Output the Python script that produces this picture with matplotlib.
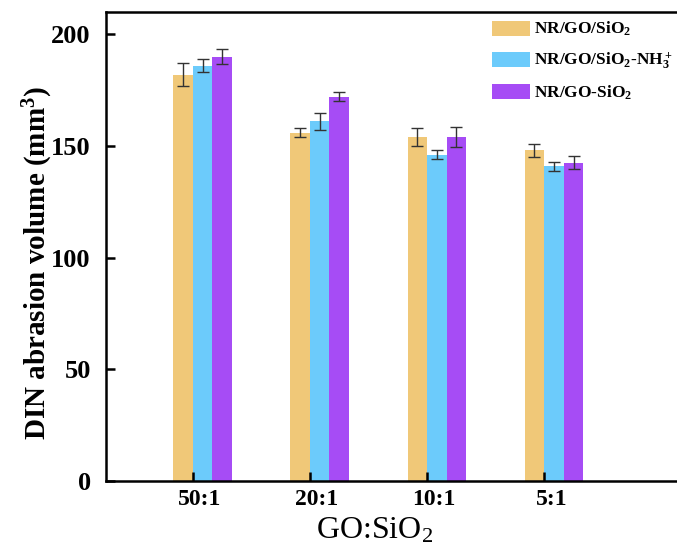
import matplotlib
matplotlib.use("Agg")
import matplotlib.pyplot as plt
import numpy as np

plt.rcParams['font.family'] = 'Liberation Serif'
plt.rcParams['mathtext.fontset'] = 'custom'
plt.rcParams['mathtext.rm'] = 'Liberation Serif'
plt.rcParams['mathtext.bf'] = 'Liberation Serif:bold'
plt.rcParams['mathtext.default'] = 'regular'

ratios = ["50:1", "20:1", "10:1", "5:1"]
labels = ["NR/GO/SiO$_2$", "NR/GO/SiO$_2$-NH$_3^+$", "NR/GO-SiO$_2$"]
colors = ["#F0C878", "#6CCBFB", "#A64CF5"]

sio2 = [182, 156, 154, 148]
sio2_err = [5, 2, 4, 3]
sio2_nh3 = [186, 161, 146, 141]
sio2_nh3_err = [3, 4, 2, 2]
go_sio2 = [190, 172, 154, 142.5]
go_sio2_err = [3.5, 2, 4.3, 3]

fig = plt.figure(figsize=(6.77, 5.47), dpi=100)
ax = fig.add_axes([106 / 677, 66 / 547, 600 / 677, 469 / 547])

x = np.arange(1, len(ratios) + 1)
w = 0.167
series = [(sio2, sio2_err), (sio2_nh3, sio2_nh3_err), (go_sio2, go_sio2_err)]
offsets = [-0.5, 0.5, 1.5]
for (vals, errs), off, c, lab in zip(series, offsets, colors, labels):
    ax.bar(x + off * w, vals, w, color=c, label=lab,
           yerr=errs, capsize=4,
           error_kw=dict(ecolor="#333333", elinewidth=1, capthick=1))

ax.set_xlim(0.26, 5.38)
ax.set_ylim(0, 210)
ax.set_yticks([0, 50, 100, 150, 200])
# tick marks at the bar-pair boundary, labels a bit to the right
ax.set_xticks(x)
ax.set_xticklabels([])
ax.set_xticks(x + 0.06, minor=True)
ax.set_xticklabels(ratios, minor=True)
ax.tick_params(direction="in", length=6.5, width=1.8)
ax.tick_params(axis="y", labelsize=19, pad=11)
ax.tick_params(axis="x", which="minor", length=0, labelsize=17, pad=6)
for t in ax.get_xticklabels(minor=True) + ax.get_yticklabels():
    t.set_fontweight("bold")
for s in ax.spines.values():
    s.set_linewidth(1.8)

ax.set_ylabel("DIN abrasion volume (mm$^3$)", fontsize=21, fontweight="bold")
ax.yaxis.set_label_coords(-0.085, 0.465)
ax.set_xlabel("GO:SiO$_2$", fontsize=23)
ax.xaxis.set_label_coords(0.447, -0.075)

leg = ax.legend(loc="upper left", bbox_to_anchor=(492 / 677, 1 - 20 / 547),
                bbox_transform=fig.transFigure, frameon=False,
                prop={"size": 12.5, "weight": "bold"}, handlelength=2.2,
                handleheight=0.95, labelspacing=0.7, handletextpad=0.2,
                borderpad=0, borderaxespad=0)

fig.savefig("out.png", dpi=100)
